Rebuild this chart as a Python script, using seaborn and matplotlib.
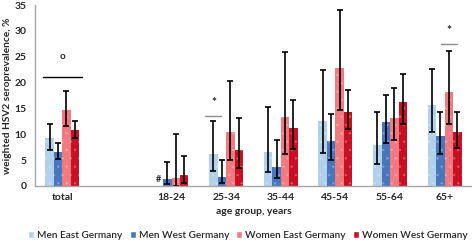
import numpy as np
import pandas as pd
import matplotlib
matplotlib.use("Agg")
import matplotlib.pyplot as plt
import matplotlib.colors as mcolors
import seaborn as sns

CATEGORIES = ["total", " ", "18-24", "25-34", "35-44", "45-54", "55-64", "65+"]
SERIES = ["Men East Germany", "Men West Germany", "Women East Germany", "Women West Germany"]
COLORS = ["#b1d0ec", "#4677bd", "#ef7a80", "#c80f24"]

# prevalence, lower and upper CI per series (NaN = no data)
MEN_EAST = [9.3, np.nan, np.nan, 6.2, 6.6, 12.5, 7.9, 15.6]
MEN_EAST_LO = [7.0, np.nan, np.nan, 2.9, 2.6, 6.4, 4.2, 10.4]
MEN_EAST_HI = [12.0, np.nan, np.nan, 12.6, 15.3, 22.5, 14.3, 22.6]

MEN_WEST = [6.6, np.nan, 1.4, 1.7, 3.7, 8.6, 12.3, 9.6]
MEN_WEST_LO = [5.2, np.nan, 0.4, 0.5, 1.5, 5.1, 8.4, 6.2]
MEN_WEST_HI = [8.4, np.nan, 4.7, 5.1, 8.8, 13.9, 17.6, 14.3]

WOMEN_EAST = [14.7, np.nan, 1.5, 10.4, 13.3, 22.8, 13.2, 18.1]
WOMEN_EAST_LO = [11.5, np.nan, 0.0, 5.0, 6.2, 14.6, 8.9, 12.0]
WOMEN_EAST_HI = [18.4, np.nan, 10.0, 20.4, 25.9, 34.0, 19.0, 26.1]

WOMEN_WEST = [10.8, np.nan, 2.1, 6.9, 11.2, 14.3, 16.2, 10.4]
WOMEN_WEST_LO = [9.2, np.nan, 0.6, 3.5, 7.2, 11.1, 11.9, 7.3]
WOMEN_WEST_HI = [12.6, np.nan, 5.7, 13.1, 16.7, 18.6, 21.6, 14.3]

# significance markers: (category, series index or None for whole group, line y, symbol y, symbol)
MARKS = [("total", None, 21.0, 25.0, "o"), ("25-34", 0, 13.5, 16.2, "*"), ("65+", 2, 27.4, 30.0, "*")]

values = [MEN_EAST, MEN_WEST, WOMEN_EAST, WOMEN_WEST]
lows = [MEN_EAST_LO, MEN_WEST_LO, WOMEN_EAST_LO, WOMEN_WEST_LO]
highs = [MEN_EAST_HI, MEN_WEST_HI, WOMEN_EAST_HI, WOMEN_WEST_HI]

rows = []
for s, v in zip(SERIES, values):
    for c, val in zip(CATEGORIES, v):
        rows.append({"age": c, "group": s, "prev": val})
df = pd.DataFrame(rows)
# zero-height bars for missing cells keep one patch per category
df["prev"] = df["prev"].fillna(0)

sns.set_theme(style="white")
plt.rcParams["font.family"] = ["Lato", "DejaVu Sans"]
plt.rcParams["hatch.linewidth"] = 0.5

TXT = "#262626"

fig = plt.figure(figsize=(4.72, 2.43), dpi=100)
ax = fig.add_axes([0.074, 0.235, 0.926, 0.744])

sns.barplot(data=df, x="age", y="prev", hue="group", order=CATEGORIES,
            hue_order=SERIES, palette=COLORS, width=0.62, errorbar=None,
            saturation=1, ax=ax, legend=True)


def patch(i, j):
    return ax.containers[i].patches[j]


def centre(i, j):
    p = patch(i, j)
    return p.get_x() + p.get_width() / 2


# light dotted texture and error bars
n_cat = len(CATEGORIES)
for i, (v, lo, hi) in enumerate(zip(values, lows, highs)):
    dot = mcolors.to_rgb(COLORS[i])
    dot = tuple(c + (1 - c) * 0.3 for c in dot)
    for j, p in enumerate(ax.containers[i].patches):
        p.set_edgecolor(dot)
        p.set_linewidth(0)
        p.set_hatch("..")
        if np.isnan(v[j]):
            continue
        ax.errorbar(centre(i, j), v[j], yerr=[[v[j] - lo[j]], [hi[j] - v[j]]],
                    fmt="none", ecolor="black", elinewidth=1.2, capsize=2.5,
                    capthick=1.2)

# "#" for missing Men East 18-24
ax.text(centre(0, 2), 0.3, "#", ha="center", va="bottom",
        fontsize=6.5, fontweight="bold", color=TXT)

for cat, si, ly, sy, sym in MARKS:
    j = CATEGORIES.index(cat)
    if si is None:
        x0 = patch(0, j).get_x() - 0.05
        x1 = patch(3, j).get_x() + patch(3, j).get_width() + 0.05
        col = "black"
        fs = 7
    else:
        x0 = centre(si, j) - 0.147
        x1 = centre(si, j) + 0.147
        col = "#8c8c8c"
        fs = 8.5
    ax.plot([x0, x1], [ly, ly], color=col, lw=1.0)
    ax.text((x0 + x1) / 2, sy, sym, ha="center", va="center", fontsize=fs,
            fontweight="bold", color=TXT)

ax.set_xlim(-0.5, n_cat - 0.5)
ax.set_ylim(0, 35)
ax.set_yticks(range(0, 36, 5))
ax.tick_params(axis="both", length=0, labelsize=7.5, colors=TXT)
ax.tick_params(axis="x", pad=5)
ax.tick_params(axis="y", pad=6)
for lab in ax.get_xticklabels() + ax.get_yticklabels():
    lab.set_fontweight("bold")
ax.set_xlabel("age group, years", fontsize=7.5, fontweight="bold", color=TXT, labelpad=4)
ax.set_ylabel("weighted HSV2 seroprevalence, %", fontsize=7.3, fontweight="bold",
              color=TXT, labelpad=2)
sns.despine(ax=ax)
for sp in ["left", "bottom"]:
    ax.spines[sp].set_color("#a6a6a6")
    ax.spines[sp].set_linewidth(1.0)

handles, labels = ax.get_legend_handles_labels()
ax.get_legend().remove()
leg = fig.legend(handles, labels, loc="lower center", ncol=4, frameon=False,
                 fontsize=7.3, handlelength=0.6, handleheight=0.6, handletextpad=0.3,
                 columnspacing=0.7, bbox_to_anchor=(0.525, -0.025))
for t in leg.get_texts():
    t.set_color(TXT)
    t.set_fontweight("semibold")
for h in leg.legend_handles:
    h.set_hatch(None)

fig.savefig("out.png", dpi=100)
